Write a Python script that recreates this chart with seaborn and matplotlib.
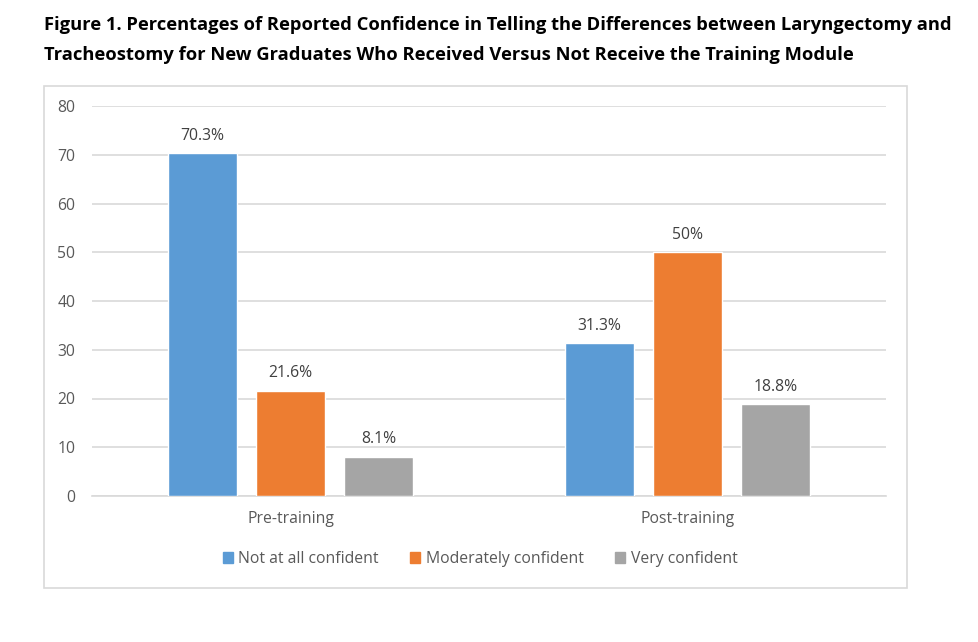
import matplotlib
matplotlib.use("Agg")
import matplotlib.pyplot as plt
import matplotlib.patches as mpatches
import seaborn as sns
import pandas as pd

categories = ["Pre-training", "Post-training"]
levels = ["Not at all confident", "Moderately confident", "Very confident"]
not_at_all = [70.3, 31.3]
moderately = [21.6, 50.0]
very = [8.1, 18.8]
labels_not = ["70.3%", "31.3%"]
labels_mod = ["21.6%", "50%"]
labels_very = ["8.1%", "18.8%"]
yticks = [0, 10, 20, 30, 40, 50, 60, 70, 80]
colors = ["#5B9BD5", "#ED7D31", "#A5A5A5"]

rows = []
for i, c in enumerate(categories):
    rows.append((c, levels[0], not_at_all[i]))
    rows.append((c, levels[1], moderately[i]))
    rows.append((c, levels[2], very[i]))
df = pd.DataFrame(rows, columns=["stage", "level", "pct"])

sns.set_theme(style="white")
plt.rcParams["font.family"] = ["Open Sans", "DejaVu Sans"]

fig = plt.figure(figsize=(9.79, 6.42), dpi=100)
ax = fig.add_axes([92/979, 1-496/642, (886-92)/979, (496-106)/642])

# Outer chart border
fig.patches.append(mpatches.Rectangle((44/979, 1-588/642), (907-44)/979, (588-86)/642,
                                      transform=fig.transFigure, fill=False,
                                      edgecolor="#D9D9D9", linewidth=1.2, zorder=0))

sns.barplot(data=df, x="stage", y="pct", hue="level", hue_order=levels,
            order=categories, palette=colors, width=0.666, gap=0.22,
            saturation=1, ax=ax, legend=False, zorder=3)

all_labels = [labels_not, labels_mod, labels_very]
for cont, labs in zip(ax.containers, all_labels):
    ax.bar_label(cont, labels=labs, padding=7, fontsize=11.3, color="#404040")

ax.set_xlim(-0.5, 1.5)
ax.set_ylim(0, 80)
ax.set_yticks(yticks)
ax.yaxis.grid(True, color="#D9D9D9", linewidth=1.2, zorder=0)
ax.set_axisbelow(True)
for s in ["top", "right", "left"]:
    ax.spines[s].set_visible(False)
ax.spines["bottom"].set_color("#D9D9D9")
ax.spines["bottom"].set_linewidth(1.2)
ax.tick_params(axis="both", length=0, labelsize=11.3, colors="#595959")
ax.tick_params(axis="y", pad=12)
ax.tick_params(axis="x", pad=11)
ax.set_xlabel("")
ax.set_ylabel("")

handles = [mpatches.Patch(color=c, label=l) for c, l in zip(colors, levels)]
fig.legend(handles=handles, loc="center", bbox_to_anchor=(480/979, 1-559/642),
           ncol=3, frameon=False, fontsize=11.3, handlelength=0.65, handleheight=0.65,
           handletextpad=0.35, columnspacing=2.0, labelcolor="#595959")

fig.text(44/979, 1-25/642,
         "Figure 1. Percentages of Reported Confidence in Telling the Differences between Laryngectomy and",
         fontsize=13.2, fontweight="bold", va="center", ha="left", color="black")
fig.text(44/979, 1-55/642,
         "Tracheostomy for New Graduates Who Received Versus Not Receive the Training Module",
         fontsize=13.2, fontweight="bold", va="center", ha="left", color="black")

fig.savefig("out.png", dpi=100)
